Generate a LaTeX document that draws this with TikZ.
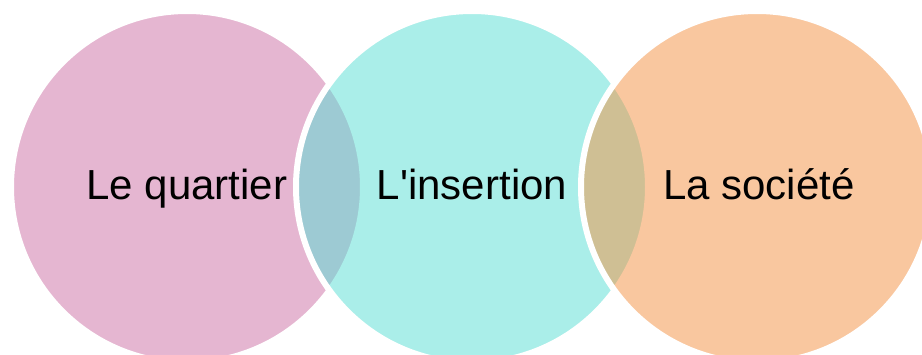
\documentclass[tikz,border=0pt]{standalone}
\usepackage{fontspec}
\setmainfont{Liberation Sans}[Ligatures=TeXOff]
\definecolor{pinkfull}{RGB}{205,111,165}
\definecolor{cyanfull}{RGB}{87,223,213}
\definecolor{orangefull}{RGB}{245,145,65}
\tikzset{
  venn/.style={circle, inner sep=0pt, minimum size=264pt, draw=white, line width=4.5pt, fill opacity=0.5, draw opacity=1},
  lbl/.style={anchor=base, inner sep=0pt, font=\fontsize{31.5}{36}\selectfont, text=black}
}
\begin{document}
\begin{tikzpicture}[x=0.75pt, y=-0.75pt]
\useasboundingbox (0,0) rectangle (922,354);
\clip (0,0) rectangle (922,354);
\fill[white] (0,0) rectangle (922,354);
\node[venn, fill=pinkfull] (c1) at (187,187) {};
\node[venn, fill=cyanfull] (c2) at (472,187) {};
\node[venn, fill=orangefull] (c3) at (757,187) {};
\node[lbl] (t1) at (187,199) {Le quartier};
\node[lbl] (t2) at (472,199) {L'insertion};
\node[lbl] (t3) at (759,199) {La société};
\end{tikzpicture}
\end{document}
